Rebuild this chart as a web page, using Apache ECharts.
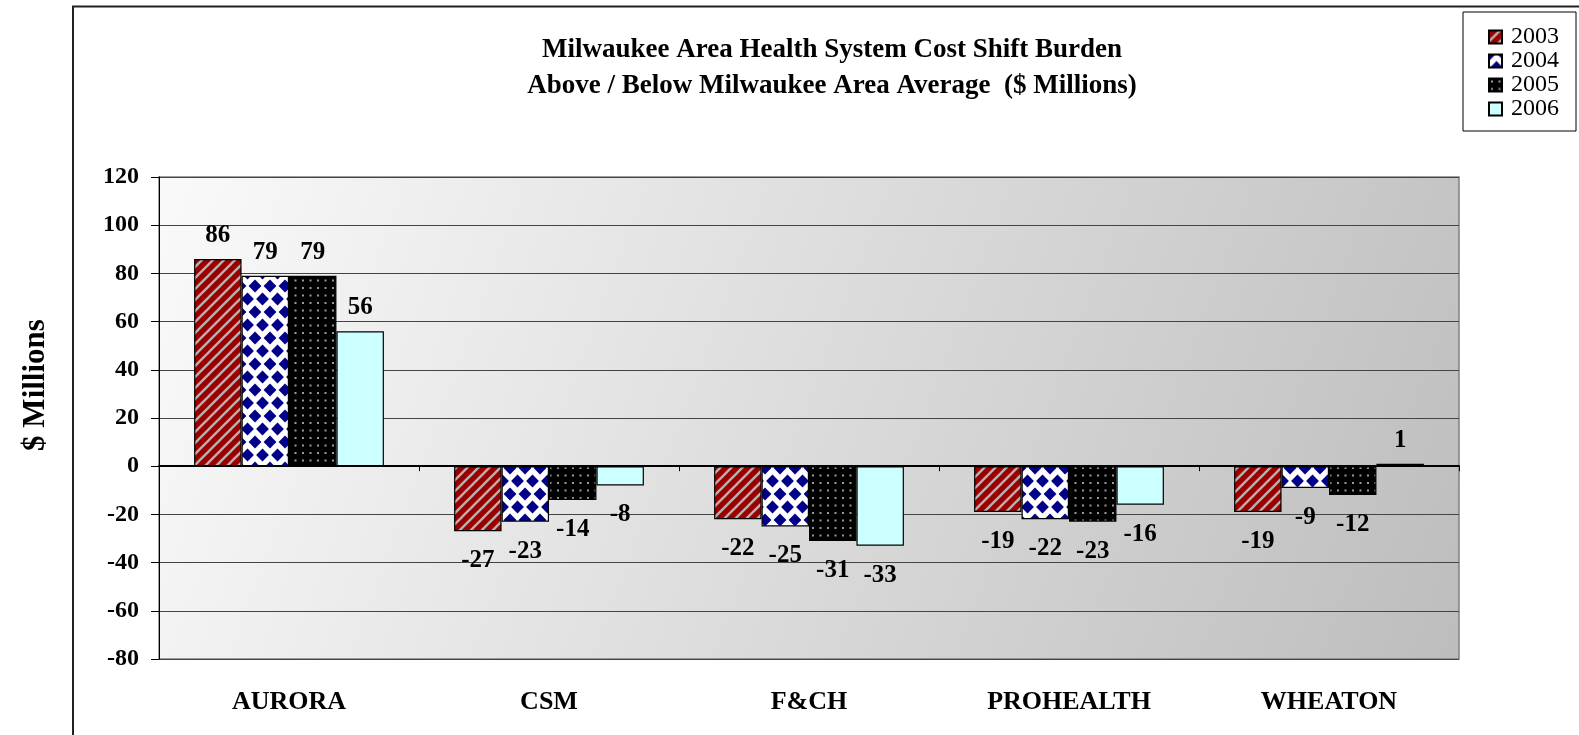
<!DOCTYPE html>
<html>
<head>
<meta charset="utf-8">
<script src="https://cdn.jsdelivr.net/npm/echarts@6/dist/echarts.min.js"></script>
<style>
html,body{margin:0;padding:0;background:#fff;}
#chart{width:1579px;height:735px;}
</style>
</head>
<body>
<div id="chart"></div>
<script>
const categories = ['AURORA', 'CSM', 'F&CH', 'PROHEALTH', 'WHEATON'];
const years = ['2003', '2004', '2005', '2006'];
const values2003 = [86, -27, -22, -19, -19];
const values2004 = [79, -23, -25, -22, -9];
const values2005 = [79, -14, -31, -23, -12];
const values2006 = [56, -8, -33, -16, 1];
const yTicks = { min: -80, max: 120, interval: 20 };
const titleLines = ['Milwaukee Area Health System Cost Shift Burden', 'Above / Below Milwaukee Area Average  ($ Millions)'];
const yName = '$ Millions';

const FONT = '"Liberation Serif", "Times New Roman", serif';

function makeCanvas(w, h) {
  const c = document.createElement('canvas');
  c.width = w; c.height = h;
  return c;
}
function stripePattern() {
  const s = 11;
  const c = makeCanvas(s, s);
  const g = c.getContext('2d');
  g.fillStyle = '#9a0000';
  g.fillRect(0, 0, s, s);
  g.strokeStyle = '#b8b0b0';
  g.lineWidth = 2.4;
  for (let k = -1; k <= 1; k++) {
    g.beginPath();
    g.moveTo(k * s - 1, s + 1);
    g.lineTo(k * s + s + 1, -1);
    g.stroke();
  }
  return c;
}
function diamondPattern() {
  const w = 15, h = 26, r = 6.4;
  const c = makeCanvas(w, h);
  const g = c.getContext('2d');
  g.fillStyle = '#ffffff';
  g.fillRect(0, 0, w, h);
  g.fillStyle = '#000088';
  const pts = [[0, 0], [w, 0], [0, h], [w, h], [w / 2, h / 2]];
  pts.forEach(p => {
    g.beginPath();
    g.moveTo(p[0], p[1] - r);
    g.lineTo(p[0] + r, p[1]);
    g.lineTo(p[0], p[1] + r);
    g.lineTo(p[0] - r, p[1]);
    g.closePath();
    g.fill();
  });
  return c;
}
function dotPattern() {
  const s = 15;
  const c = makeCanvas(s, s);
  const g = c.getContext('2d');
  g.fillStyle = '#000000';
  g.fillRect(0, 0, s, s);
  g.fillStyle = '#9a9a9a';
  [[3, 3], [10.5, 3], [3, 10.5], [10.5, 10.5]].forEach(p => {
    g.fillRect(p[0] - 1, p[1] - 1, 2, 2);
  });
  return c;
}

const fills = [
  { image: stripePattern(), repeat: 'repeat' },
  { image: diamondPattern(), repeat: 'repeat' },
  { image: dotPattern(), repeat: 'repeat' },
  '#ccffff'
];
const seriesValues = [values2003, values2004, values2005, values2006];

const chart = echarts.init(document.getElementById('chart'), null, { renderer: 'canvas' });

const series = seriesValues.map((vals, i) => ({
  name: years[i],
  type: 'bar',
  xAxisIndex: 0,
  yAxisIndex: 0,
  barGap: '0%',
  barCategoryGap: '27%',
  itemStyle: { color: fills[i], borderColor: '#000', borderWidth: 1.2 },
  emphasis: { disabled: true },
  data: vals.map(v => ({
    value: v,
    label: v < 0 ? { position: 'bottom', distance: 17 } : { position: 'top', distance: 11 }
  })),
  label: {
    show: true,
    color: '#000',
    fontFamily: FONT,
    fontWeight: 'bold',
    fontSize: 25
  },
  z: 3
}));

const option = {
  backgroundColor: '#ffffff',
  animation: false,
  title: {
    text: titleLines.join('\n'),
    left: 827,
    top: 27,
    textAlign: 'center',
    textStyle: { fontFamily: FONT, fontWeight: 'bold', fontSize: 27, lineHeight: 36, color: '#000' }
  },
  legend: {
    data: years,
    orient: 'vertical',
    left: 1463,
    top: 12,
    padding: [13, 17, 10, 25],
    itemWidth: 13,
    itemHeight: 13,
    itemGap: 0,
    borderColor: '#000',
    borderWidth: 1,
    backgroundColor: '#fff',
    icon: 'rect',
    textStyle: { fontFamily: FONT, fontSize: 24, lineHeight: 23.5, color: '#000', padding: [0, 0, 0, 4] },
    selectedMode: false
  },
  grid: {
    left: 159,
    right: 120,
    top: 177,
    bottom: 76,
    show: true,
    borderColor: '#808080',
    borderWidth: 1.5,
    backgroundColor: new echarts.graphic.LinearGradient(0, 0, 1, 1, [
      { offset: 0, color: '#fafafa' },
      { offset: 1, color: '#bdbdbd' }
    ])
  },
  xAxis: [
    {
      type: 'category',
      data: categories,
      position: 'bottom',
      axisLine: { show: false, onZero: false },
      axisTick: { show: false },
      axisLabel: { margin: 30, color: '#000', fontFamily: FONT, fontWeight: 'bold', fontSize: 26 },
      splitLine: { show: false }
    },
    {
      type: 'category',
      data: categories,
      position: 'top',
      axisLine: { show: true, onZero: true, lineStyle: { color: '#000', width: 2 } },
      axisTick: { show: true, inside: true, length: 5, lineStyle: { color: '#000', width: 1 } },
      axisLabel: { show: false },
      splitLine: { show: false },
      z: 5
    }
  ],
  yAxis: {
    type: 'value',
    min: yTicks.min,
    max: yTicks.max,
    interval: yTicks.interval,
    axisLine: { show: true, lineStyle: { color: '#000', width: 1 } },
    axisTick: { show: true, length: 8, lineStyle: { color: '#000' } },
    axisLabel: { margin: 20, color: '#000', fontFamily: FONT, fontWeight: 'bold', fontSize: 24 },
    splitLine: { show: true, lineStyle: { color: '#444', width: 1 } }
  },
  graphic: [
    {
      type: 'rect',
      silent: true,
      z: -10,
      shape: { x: 73, y: 6.5, width: 1700, height: 900 },
      style: { fill: 'none', stroke: '#222', lineWidth: 2 }
    },
    {
      type: 'text',
      silent: true,
      x: 36,
      y: 385,
      rotation: Math.PI / 2,
      style: {
        text: yName,
        fontFamily: FONT,
        fontWeight: 'bold',
        fontSize: 31,
        fill: '#000',
        align: 'center',
        verticalAlign: 'middle'
      }
    }
  ],
  series: series
};

chart.setOption(option);
</script>
</body>
</html>
